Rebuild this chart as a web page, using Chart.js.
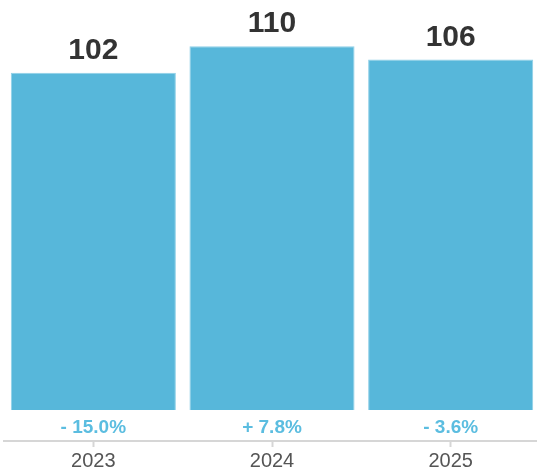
<!DOCTYPE html>
<html>
<head>
<meta charset="utf-8">
<script src="https://cdn.jsdelivr.net/npm/chart.js@4"></script>
<style>
    html, body { margin: 0; padding: 0; background: #ffffff; overflow: hidden; }
    #yearChart { display: block; }
</style>
</head>
<body>
<canvas id="yearChart" width="540" height="475"></canvas>
<script>
const years = ['2023', '2024', '2025'];
const totals = [102, 110, 106];
const changeLabels = ['- 15.0%', '+ 7.8%', '- 3.6%'];

document.addEventListener('DOMContentLoaded', function () {
    const canvas = document.getElementById('yearChart');

    Chart.defaults.font.family = "'Liberation Sans', Arial, sans-serif";

    // value on top of each bar, year-over-year change just under its base
    const barLabels = {
        id: 'barLabels',
        afterDatasetsDraw: function (chart) {
            const ctx = chart.ctx;
            const meta = chart.getDatasetMeta(0);
            ctx.save();
            ctx.textAlign = 'center';
            meta.data.forEach(function (bar, i) {
                ctx.fillStyle = '#333333';
                ctx.font = "bold 30px 'Liberation Sans', Arial, sans-serif";
                ctx.textBaseline = 'alphabetic';
                ctx.fillText(String(totals[i]), bar.x, bar.y - 14);

                ctx.fillStyle = '#5bbde0';
                ctx.font = "bold 19px 'Liberation Sans', Arial, sans-serif";
                ctx.textBaseline = 'middle';
                ctx.fillText(changeLabels[i], bar.x, bar.base + 18);
            });
            ctx.restore();
        }
    };

    new Chart(canvas, {
        type: 'bar',
        data: {
            labels: years,
            datasets: [
                {
                    data: totals,
                    backgroundColor: '#57b7da',
                    borderColor: '#8fd0e8',
                    borderWidth: 1,
                    categoryPercentage: 1,
                    barPercentage: 0.924
                }
            ]
        },
        options: {
            responsive: false,
            animation: false,
            layout: {
                padding: { left: 4, right: 0, top: 0, bottom: 0 }
            },
            scales: {
                y: {
                    display: false,
                    min: -9.4,
                    max: 124
                },
                x: {
                    grid: {
                        offset: false,
                        drawOnChartArea: false,
                        color: '#d6d6d6',
                        tickLength: 6,
                        tickWidth: 2
                    },
                    border: {
                        color: '#d6d6d6',
                        width: 2
                    },
                    ticks: {
                        color: '#555555',
                        padding: 2,
                        font: {
                            size: 20
                        }
                    }
                }
            },
            plugins: {
                legend: { display: false },
                tooltip: { enabled: false }
            }
        },
        plugins: [barLabels]
    });
});
</script>
</body>
</html>
